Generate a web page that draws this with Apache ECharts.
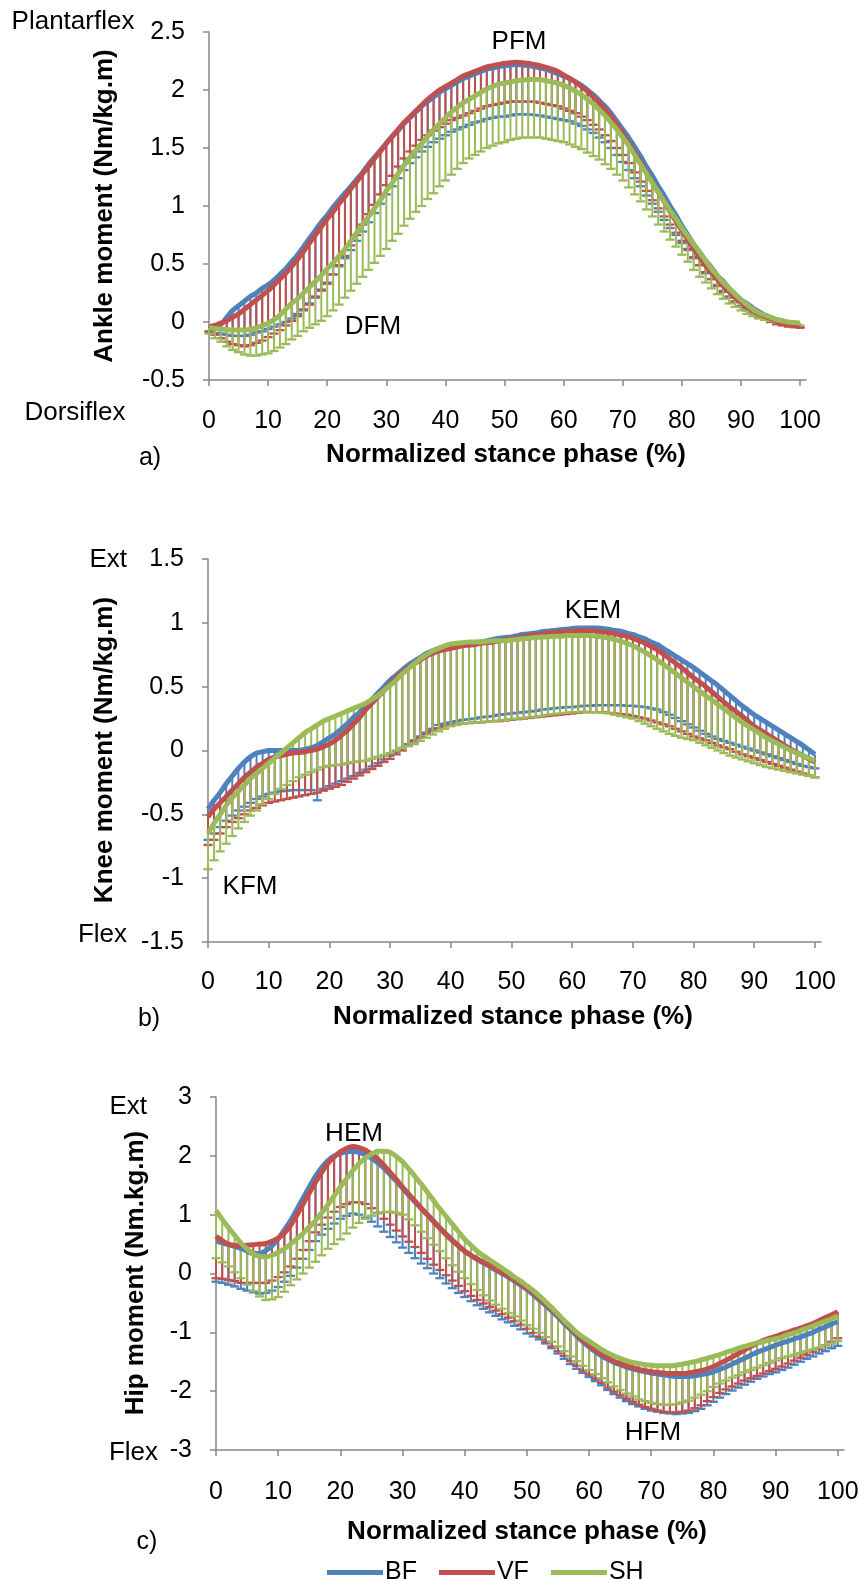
<!DOCTYPE html>
<html>
<head>
<meta charset="utf-8">
<script src="https://cdn.jsdelivr.net/npm/echarts@6/dist/echarts.min.js"></script>
<style>html,body{margin:0;padding:0;background:#fff}#c{width:866px;height:1579px}</style>
</head>
<body>
<div id="c"></div>
<script>
// ---------- DATA ----------
const phase = [0,1,2,3,4,5,6,7,8,9,10,11,12,13,14,15,16,17,18,19,20,21,22,23,24,25,26,27,28,29,30,31,32,33,34,35,36,37,38,39,40,41,42,43,44,45,46,47,48,49,50,51,52,53,54,55,56,57,58,59,60,61,62,63,64,65,66,67,68,69,70,71,72,73,74,75,76,77,78,79,80,81,82,83,84,85,86,87,88,89,90,91,92,93,94,95,96,97,98,99,100];
const xTicks = [0,10,20,30,40,50,60,70,80,90,100];
const groups = ['BF','VF','SH'];

// Ankle moment (Nm/kg.m): means and lower error-bar ends (mean - SD)
const ankleBF = [-0.06,-0.04,-0.02,0.04,0.10,0.14,0.18,0.22,0.25,0.29,
 0.32,0.36,0.41,0.46,0.52,0.58,0.65,0.72,0.79,0.86,
 0.92,0.99,1.05,1.11,1.17,1.23,1.29,1.36,1.42,1.48,
 1.54,1.60,1.65,1.71,1.76,1.81,1.86,1.90,1.94,1.98,
 2.01,2.04,2.07,2.10,2.12,2.14,2.16,2.18,2.19,2.20,
 2.21,2.215,2.22,2.215,2.21,2.20,2.19,2.18,2.16,2.14,
 2.12,2.10,2.07,2.04,2.00,1.96,1.91,1.86,1.80,1.73,
 1.66,1.59,1.51,1.43,1.34,1.26,1.17,1.09,1.00,0.92,
 0.83,0.75,0.67,0.60,0.53,0.47,0.40,0.35,0.29,0.24,
 0.19,0.16,0.12,0.09,0.06,0.04,0.02,0.01,-0.01,-0.02,
 -0.02];
const ankleVF = [-0.04,-0.03,-0.01,0.01,0.04,0.07,0.11,0.15,0.19,0.23,
 0.27,0.32,0.37,0.42,0.48,0.54,0.61,0.68,0.75,0.82,
 0.89,0.95,1.02,1.08,1.15,1.21,1.28,1.34,1.41,1.47,
 1.54,1.60,1.66,1.72,1.77,1.82,1.87,1.92,1.96,2.00,
 2.03,2.06,2.09,2.12,2.14,2.16,2.18,2.20,2.21,2.22,
 2.23,2.235,2.24,2.235,2.23,2.22,2.21,2.195,2.18,2.16,
 2.13,2.10,2.07,2.03,1.99,1.94,1.89,1.83,1.77,1.70,
 1.62,1.54,1.46,1.38,1.29,1.21,1.12,1.04,0.95,0.87,
 0.79,0.71,0.63,0.56,0.49,0.43,0.37,0.31,0.26,0.21,
 0.17,0.13,0.10,0.07,0.05,0.03,0.01,-0.01,-0.02,-0.025,
 -0.03];
const ankleSH = [-0.05,-0.055,-0.06,-0.065,-0.07,-0.07,-0.07,-0.06,-0.05,-0.03,
 -0.01,0.02,0.06,0.11,0.16,0.20,0.25,0.30,0.35,0.40,
 0.46,0.51,0.57,0.63,0.70,0.77,0.84,0.91,0.98,1.05,
 1.13,1.20,1.28,1.35,1.42,1.48,1.54,1.60,1.66,1.71,
 1.76,1.81,1.85,1.89,1.92,1.95,1.98,2.01,2.03,2.05,
 2.06,2.07,2.08,2.085,2.09,2.09,2.09,2.08,2.07,2.06,
 2.04,2.02,1.99,1.96,1.92,1.88,1.83,1.78,1.72,1.66,
 1.59,1.52,1.44,1.36,1.28,1.20,1.12,1.04,0.96,0.89,
 0.81,0.74,0.67,0.60,0.53,0.46,0.40,0.34,0.29,0.24,
 0.19,0.15,0.11,0.08,0.06,0.04,0.02,0.01,0.00,-0.005,
 -0.01];
const ankleBFlo = [-0.09,-0.095,-0.10,-0.11,-0.12,-0.12,-0.12,-0.11,-0.09,-0.08,
 -0.06,-0.04,-0.02,0.00,0.03,0.07,0.11,0.16,0.22,0.28,
 0.34,0.41,0.48,0.55,0.62,0.70,0.78,0.86,0.94,1.02,
 1.10,1.17,1.24,1.31,1.37,1.42,1.47,1.51,1.55,1.58,
 1.61,1.64,1.66,1.68,1.70,1.72,1.73,1.75,1.76,1.77,
 1.77,1.78,1.79,1.79,1.79,1.785,1.78,1.77,1.76,1.75,
 1.74,1.73,1.71,1.69,1.66,1.63,1.59,1.55,1.50,1.44,
 1.38,1.31,1.24,1.17,1.09,1.02,0.95,0.88,0.81,0.75,
 0.68,0.62,0.55,0.49,0.42,0.37,0.32,0.27,0.22,0.18,
 0.14,0.11,0.08,0.05,0.03,0.01,0.00,-0.01,-0.02,-0.03,
 -0.04];
const ankleVFlo = [-0.08,-0.11,-0.14,-0.17,-0.19,-0.20,-0.21,-0.20,-0.18,-0.16,
 -0.13,-0.10,-0.07,-0.03,0.01,0.05,0.10,0.15,0.21,0.27,
 0.33,0.41,0.49,0.57,0.66,0.75,0.84,0.93,1.01,1.10,
 1.18,1.26,1.34,1.41,1.47,1.52,1.57,1.61,1.65,1.68,
 1.71,1.74,1.76,1.78,1.80,1.82,1.84,1.86,1.87,1.88,
 1.89,1.90,1.90,1.90,1.90,1.90,1.89,1.88,1.87,1.86,
 1.84,1.82,1.80,1.77,1.74,1.70,1.66,1.61,1.56,1.50,
 1.44,1.37,1.29,1.21,1.13,1.05,0.98,0.91,0.84,0.77,
 0.70,0.63,0.56,0.49,0.43,0.37,0.31,0.26,0.21,0.17,
 0.13,0.10,0.07,0.04,0.02,0.00,-0.02,-0.03,-0.04,-0.045,
 -0.05];
const ankleSHlo = [-0.10,-0.14,-0.17,-0.21,-0.24,-0.26,-0.28,-0.29,-0.29,-0.28,
 -0.27,-0.25,-0.22,-0.19,-0.15,-0.12,-0.08,-0.05,-0.02,0.01,
 0.05,0.10,0.15,0.21,0.27,0.33,0.39,0.45,0.51,0.57,
 0.63,0.70,0.76,0.83,0.89,0.95,1.00,1.06,1.11,1.17,
 1.22,1.27,1.32,1.37,1.41,1.44,1.47,1.50,1.52,1.54,
 1.55,1.57,1.58,1.59,1.59,1.59,1.59,1.58,1.57,1.56,
 1.55,1.53,1.51,1.49,1.46,1.43,1.40,1.36,1.32,1.27,
 1.22,1.16,1.10,1.04,0.97,0.91,0.84,0.78,0.71,0.65,
 0.58,0.52,0.45,0.39,0.34,0.29,0.24,0.20,0.16,0.13,
 0.10,0.07,0.05,0.03,0.02,0.01,0.00,-0.01,-0.02,-0.025,
 -0.03];

// Knee moment (Nm/kg.m)
const kneeBF = [-0.46,-0.39,-0.33,-0.26,-0.20,-0.14,-0.09,-0.05,-0.02,-0.01,
 0.00,0.00,0.00,0.00,0.00,0.00,0.01,0.02,0.04,0.07,
 0.10,0.13,0.17,0.21,0.26,0.30,0.35,0.40,0.45,0.50,
 0.55,0.59,0.63,0.67,0.70,0.73,0.76,0.78,0.80,0.81,
 0.82,0.825,0.83,0.84,0.845,0.85,0.86,0.87,0.88,0.885,
 0.89,0.90,0.91,0.915,0.92,0.93,0.935,0.94,0.945,0.95,
 0.955,0.96,0.96,0.96,0.96,0.955,0.95,0.94,0.935,0.92,
 0.91,0.89,0.875,0.85,0.83,0.80,0.77,0.74,0.71,0.68,
 0.65,0.615,0.58,0.545,0.51,0.47,0.43,0.39,0.35,0.315,
 0.28,0.25,0.22,0.19,0.16,0.13,0.10,0.07,0.04,0.005,
 -0.03];
const kneeVF = [-0.52,-0.46,-0.41,-0.36,-0.31,-0.26,-0.21,-0.17,-0.13,-0.10,
 -0.07,-0.05,-0.04,-0.03,-0.02,-0.015,-0.01,0.00,0.01,0.03,
 0.05,0.08,0.12,0.16,0.21,0.26,0.32,0.37,0.42,0.47,
 0.52,0.57,0.61,0.65,0.68,0.71,0.74,0.76,0.78,0.79,
 0.80,0.81,0.82,0.825,0.83,0.84,0.845,0.85,0.86,0.87,
 0.875,0.88,0.89,0.90,0.905,0.91,0.92,0.925,0.93,0.93,
 0.935,0.94,0.94,0.94,0.935,0.93,0.925,0.915,0.905,0.895,
 0.88,0.86,0.84,0.815,0.79,0.755,0.72,0.685,0.65,0.61,
 0.57,0.535,0.50,0.46,0.42,0.38,0.34,0.305,0.27,0.23,
 0.19,0.16,0.13,0.10,0.07,0.04,0.01,-0.015,-0.04,-0.065,
 -0.09];
const kneeSH = [-0.65,-0.57,-0.50,-0.43,-0.37,-0.32,-0.27,-0.22,-0.18,-0.14,
 -0.10,-0.06,-0.02,0.02,0.06,0.10,0.14,0.17,0.20,0.23,
 0.25,0.27,0.29,0.31,0.33,0.35,0.37,0.40,0.43,0.47,
 0.51,0.55,0.60,0.64,0.68,0.72,0.75,0.78,0.80,0.82,
 0.835,0.84,0.845,0.85,0.85,0.85,0.855,0.86,0.86,0.86,
 0.865,0.87,0.875,0.88,0.885,0.89,0.89,0.895,0.895,0.90,
 0.90,0.90,0.90,0.90,0.895,0.89,0.88,0.87,0.855,0.84,
 0.82,0.795,0.77,0.74,0.71,0.675,0.64,0.605,0.57,0.535,
 0.50,0.465,0.43,0.395,0.36,0.325,0.29,0.255,0.22,0.19,
 0.16,0.13,0.10,0.075,0.05,0.025,0.00,-0.02,-0.04,-0.06,
 -0.08];
const kneeBFlo = [-0.70,-0.65,-0.60,-0.55,-0.51,-0.47,-0.44,-0.41,-0.38,-0.36,
 -0.34,-0.33,-0.32,-0.315,-0.31,-0.31,-0.31,-0.31,-0.39,-0.30,
 -0.28,-0.26,-0.24,-0.22,-0.20,-0.175,-0.15,-0.125,-0.10,-0.07,
 -0.04,-0.01,0.02,0.05,0.08,0.11,0.14,0.17,0.20,0.21,
 0.22,0.23,0.24,0.245,0.25,0.26,0.265,0.27,0.28,0.285,
 0.29,0.295,0.30,0.305,0.31,0.32,0.325,0.33,0.335,0.34,
 0.34,0.345,0.35,0.35,0.355,0.355,0.355,0.355,0.355,0.35,
 0.35,0.345,0.34,0.33,0.32,0.30,0.28,0.255,0.23,0.205,
 0.18,0.155,0.13,0.11,0.09,0.075,0.06,0.045,0.03,0.015,
 0.00,-0.015,-0.03,-0.045,-0.06,-0.075,-0.09,-0.105,-0.12,-0.13,
 -0.14];
const kneeVFlo = [-0.74,-0.70,-0.65,-0.60,-0.56,-0.53,-0.50,-0.47,-0.45,-0.43,
 -0.41,-0.40,-0.39,-0.38,-0.37,-0.36,-0.35,-0.34,-0.33,-0.315,
 -0.30,-0.285,-0.27,-0.245,-0.22,-0.195,-0.17,-0.145,-0.12,-0.09,
 -0.065,-0.03,0.00,0.035,0.07,0.10,0.13,0.155,0.175,0.19,
 0.20,0.205,0.21,0.215,0.22,0.22,0.225,0.23,0.23,0.235,
 0.24,0.245,0.25,0.255,0.26,0.265,0.27,0.275,0.28,0.285,
 0.29,0.295,0.30,0.30,0.30,0.30,0.295,0.29,0.285,0.28,
 0.27,0.26,0.25,0.235,0.22,0.205,0.19,0.17,0.15,0.13,
 0.11,0.095,0.08,0.06,0.04,0.025,0.01,-0.01,-0.03,-0.045,
 -0.06,-0.075,-0.09,-0.105,-0.12,-0.135,-0.15,-0.165,-0.18,-0.195,
 -0.21];
const kneeSHlo = [-0.93,-0.86,-0.79,-0.73,-0.67,-0.61,-0.56,-0.51,-0.47,-0.42,
 -0.38,-0.34,-0.30,-0.27,-0.24,-0.21,-0.19,-0.17,-0.15,-0.13,
 -0.12,-0.115,-0.11,-0.10,-0.09,-0.085,-0.08,-0.065,-0.05,-0.035,
 -0.02,0.00,0.02,0.035,0.05,0.075,0.10,0.125,0.15,0.17,
 0.19,0.20,0.21,0.215,0.22,0.22,0.225,0.23,0.235,0.24,
 0.245,0.25,0.255,0.26,0.265,0.27,0.28,0.285,0.29,0.295,
 0.30,0.30,0.305,0.30,0.30,0.295,0.29,0.28,0.27,0.26,
 0.25,0.23,0.21,0.19,0.17,0.15,0.13,0.115,0.10,0.09,
 0.08,0.06,0.04,0.02,0.00,-0.02,-0.04,-0.055,-0.07,-0.085,
 -0.10,-0.115,-0.13,-0.14,-0.15,-0.16,-0.17,-0.18,-0.19,-0.20,
 -0.21];

// Hip moment (Nm.kg.m)
const hipBF = [0.55,0.52,0.49,0.46,0.43,0.38,0.34,0.34,0.39,0.47,
 0.59,0.74,0.90,1.09,1.28,1.47,1.65,1.80,1.92,2.00,
 2.04,2.07,2.08,2.06,2.02,1.96,1.88,1.79,1.68,1.57,
 1.45,1.33,1.22,1.11,1.00,0.89,0.78,0.67,0.57,0.47,
 0.38,0.31,0.24,0.18,0.12,0.06,0.00,-0.06,-0.13,-0.20,
 -0.27,-0.36,-0.45,-0.54,-0.64,-0.74,-0.85,-0.95,-1.06,-1.16,
 -1.25,-1.33,-1.40,-1.46,-1.51,-1.55,-1.59,-1.62,-1.65,-1.67,
 -1.69,-1.71,-1.72,-1.74,-1.75,-1.75,-1.75,-1.74,-1.72,-1.70,
 -1.67,-1.63,-1.59,-1.54,-1.49,-1.44,-1.39,-1.34,-1.30,-1.26,
 -1.22,-1.18,-1.15,-1.11,-1.08,-1.04,-1.00,-0.95,-0.91,-0.86,
 -0.82];
const hipVF = [0.63,0.56,0.50,0.48,0.47,0.48,0.49,0.50,0.51,0.55,
 0.60,0.69,0.82,0.99,1.18,1.37,1.55,1.72,1.87,1.98,
 2.07,2.13,2.16,2.14,2.10,2.03,1.95,1.84,1.72,1.60,
 1.47,1.35,1.23,1.11,1.00,0.88,0.77,0.66,0.56,0.47,
 0.38,0.31,0.25,0.19,0.14,0.08,0.02,-0.04,-0.11,-0.18,
 -0.25,-0.33,-0.42,-0.51,-0.61,-0.71,-0.82,-0.92,-1.03,-1.13,
 -1.22,-1.30,-1.37,-1.43,-1.49,-1.53,-1.57,-1.60,-1.63,-1.65,
 -1.67,-1.68,-1.69,-1.70,-1.70,-1.70,-1.69,-1.67,-1.65,-1.62,
 -1.58,-1.53,-1.48,-1.42,-1.36,-1.30,-1.24,-1.19,-1.14,-1.10,
 -1.07,-1.03,-1.00,-0.96,-0.93,-0.89,-0.85,-0.80,-0.75,-0.70,
 -0.65];
const hipSH = [1.07,0.92,0.78,0.65,0.52,0.42,0.33,0.29,0.28,0.31,
 0.36,0.42,0.50,0.59,0.68,0.79,0.90,1.03,1.17,1.32,
 1.47,1.61,1.75,1.87,1.96,2.03,2.08,2.08,2.06,1.99,
 1.90,1.78,1.65,1.52,1.38,1.24,1.10,0.97,0.84,0.71,
 0.58,0.48,0.38,0.30,0.23,0.16,0.09,0.02,-0.06,-0.13,
 -0.21,-0.29,-0.38,-0.48,-0.58,-0.69,-0.80,-0.90,-1.00,-1.08,
 -1.15,-1.22,-1.29,-1.35,-1.40,-1.44,-1.48,-1.51,-1.53,-1.55,
 -1.56,-1.57,-1.57,-1.57,-1.56,-1.54,-1.52,-1.50,-1.47,-1.44,
 -1.41,-1.38,-1.34,-1.31,-1.27,-1.24,-1.21,-1.18,-1.16,-1.13,
 -1.11,-1.08,-1.04,-1.01,-0.97,-0.93,-0.89,-0.85,-0.81,-0.77,
 -0.72];
const hipBFlo = [-0.14,-0.16,-0.19,-0.22,-0.26,-0.29,-0.32,-0.34,-0.33,-0.29,
 -0.23,-0.14,-0.04,0.10,0.25,0.40,0.55,0.66,0.76,0.85,
 0.93,0.98,1.02,1.00,0.95,0.88,0.80,0.71,0.62,0.53,
 0.44,0.35,0.26,0.17,0.09,0.00,-0.08,-0.17,-0.25,-0.33,
 -0.40,-0.47,-0.54,-0.60,-0.66,-0.72,-0.78,-0.83,-0.89,-0.95,
 -1.02,-1.07,-1.12,-1.19,-1.27,-1.36,-1.45,-1.54,-1.62,-1.69,
 -1.76,-1.83,-1.90,-1.98,-2.05,-2.11,-2.17,-2.22,-2.26,-2.30,
 -2.33,-2.35,-2.37,-2.38,-2.39,-2.38,-2.37,-2.34,-2.30,-2.24,
 -2.18,-2.11,-2.05,-1.99,-1.94,-1.89,-1.84,-1.79,-1.75,-1.71,
 -1.68,-1.64,-1.60,-1.55,-1.50,-1.45,-1.41,-1.36,-1.32,-1.27,
 -1.23];
const hipVFlo = [-0.08,-0.09,-0.11,-0.13,-0.16,-0.16,-0.16,-0.16,-0.16,-0.12,
 -0.06,0.02,0.12,0.25,0.40,0.55,0.70,0.83,0.95,1.05,
 1.13,1.18,1.21,1.21,1.18,1.11,1.03,0.93,0.83,0.73,
 0.63,0.54,0.45,0.35,0.25,0.15,0.06,-0.03,-0.12,-0.21,
 -0.30,-0.38,-0.45,-0.51,-0.57,-0.63,-0.69,-0.75,-0.81,-0.87,
 -0.94,-1.01,-1.08,-1.16,-1.24,-1.32,-1.40,-1.49,-1.57,-1.65,
 -1.72,-1.79,-1.86,-1.94,-2.01,-2.07,-2.13,-2.18,-2.23,-2.27,
 -2.30,-2.33,-2.35,-2.36,-2.36,-2.35,-2.33,-2.29,-2.24,-2.17,
 -2.10,-2.03,-1.97,-1.92,-1.87,-1.82,-1.78,-1.74,-1.70,-1.66,
 -1.62,-1.58,-1.53,-1.48,-1.43,-1.38,-1.33,-1.28,-1.22,-1.16,
 -1.10];
const hipSHlo = [0.26,0.19,0.12,0.02,-0.08,-0.19,-0.30,-0.39,-0.45,-0.44,
 -0.40,-0.31,-0.20,-0.10,0.00,0.10,0.20,0.31,0.42,0.50,
 0.58,0.68,0.78,0.86,0.93,0.98,1.02,1.04,1.05,1.03,
 1.00,0.92,0.82,0.71,0.60,0.49,0.38,0.26,0.14,0.03,
 -0.08,-0.18,-0.28,-0.37,-0.46,-0.53,-0.60,-0.67,-0.73,-0.80,
 -0.88,-0.94,-1.01,-1.08,-1.16,-1.24,-1.32,-1.41,-1.49,-1.57,
 -1.64,-1.71,-1.78,-1.85,-1.92,-1.98,-2.04,-2.09,-2.14,-2.17,
 -2.20,-2.22,-2.23,-2.23,-2.22,-2.19,-2.16,-2.11,-2.06,-2.00,
 -1.93,-1.87,-1.82,-1.77,-1.73,-1.68,-1.64,-1.60,-1.56,-1.52,
 -1.48,-1.44,-1.41,-1.38,-1.35,-1.32,-1.29,-1.26,-1.22,-1.19,
 -1.15];

// ---------- CHART ----------
const colors = {BF:'#4F81BD', VF:'#C0504D', SH:'#9BBB59'};
const FONT = 'Liberation Sans, Arial, sans-serif';
const AX = '#868686';

const panels = [
  {grid:{left:209, top:32, width:597, height:348}, y:{min:-0.5,max:2.5,interval:0.5}, lblMargin:29,
   means:[ankleBF,ankleVF,ankleSH], lows:[ankleBFlo,ankleVFlo,ankleSHlo]},
  {grid:{left:208, top:559, width:613, height:383}, y:{min:-1.5,max:1.5,interval:0.5}, lblMargin:28,
   means:[kneeBF,kneeVF,kneeSH], lows:[kneeBFlo,kneeVFlo,kneeSHlo]},
  {grid:{left:216, top:1097, width:628, height:353}, y:{min:-3,max:3,interval:1}, lblMargin:30,
   means:[hipBF,hipVF,hipSH], lows:[hipBFlo,hipVFlo,hipSHlo]}
];

const grid=[], xAxis=[], yAxis=[], series=[];
panels.forEach((p,i)=>{
  grid.push(p.grid);
  xAxis.push({type:'value', gridIndex:i, min:0, max:101, interval:10,
    axisLine:{show:true, onZero:false, lineStyle:{color:AX, width:1.5}},
    axisTick:{show:true, length:6, lineStyle:{color:AX, width:1.5}, customValues:xTicks},
    axisLabel:{color:'#000', fontSize:25, fontFamily:FONT, margin:p.lblMargin, customValues:xTicks},
    splitLine:{show:false}});
  yAxis.push({type:'value', gridIndex:i, min:p.y.min, max:p.y.max, interval:p.y.interval,
    axisLine:{show:true, onZero:false, lineStyle:{color:AX, width:1.5}},
    axisTick:{show:true, length:6, lineStyle:{color:AX, width:1.5}},
    axisLabel:{color:'#000', fontSize:25, fontFamily:FONT, margin:24},
    splitLine:{show:false}});
  groups.forEach((g,k)=>{
    const col = colors[g];
    const data = phase.map((x,j)=>[x, p.means[k][j], p.lows[k][j]]);
    series.push({type:'custom', name:g, xAxisIndex:i, yAxisIndex:i, z:2, silent:true,
      encode:{x:0, y:[1,2]}, data:data,
      renderItem:function(params, api){
        const a = api.coord([api.value(0), api.value(1)]);
        const b = api.coord([api.value(0), api.value(2)]);
        return {type:'group', children:[
          {type:'line', shape:{x1:a[0],y1:a[1],x2:b[0],y2:b[1]}, style:{stroke:col, lineWidth:2}},
          {type:'line', shape:{x1:b[0]-4.5,y1:b[1],x2:b[0]+4.5,y2:b[1]}, style:{stroke:col, lineWidth:2.3}}
        ]};
      }});
  });
  groups.forEach((g,k)=>{
    series.push({type:'line', name:g, xAxisIndex:i, yAxisIndex:i, z:3, symbol:'none', smooth:0.3,
      lineStyle:{color:colors[g], width:5}, itemStyle:{color:colors[g]},
      data: phase.map((x,j)=>[x, p.means[k][j]])});
  });
});

function txt(t, x, y, opts){
  opts = opts || {};
  return {type:'text', x:x, y:y, rotation:opts.rot||0, silent:true,
    style:{text:t, fill:'#000', align:opts.align||'center', verticalAlign:'middle',
      font:(opts.bold?'bold ':'')+(opts.size||26)+'px '+FONT}};
}

const graphics = [
  txt('Plantarflex', 73, 22),
  txt('Dorsiflex', 75, 413),
  txt('PFM', 519, 42),
  txt('DFM', 373, 327),
  txt('a)', 150, 458, {size:25}),
  txt('Normalized stance phase (%)', 506, 455, {bold:true}),
  txt('Ankle moment (Nm/kg.m)', 105, 206, {bold:true, rot:Math.PI/2}),
  txt('Ext', 127, 560, {align:'right'}),
  txt('Flex', 127, 935, {align:'right'}),
  txt('KEM', 593, 611),
  txt('KFM', 250, 887),
  txt('b)', 149, 1019, {size:25}),
  txt('Normalized stance phase (%)', 513, 1017, {bold:true}),
  txt('Knee moment (Nm/kg.m)', 105, 750, {bold:true, rot:Math.PI/2}),
  txt('Ext', 147, 1107, {align:'right'}),
  txt('Flex', 158, 1453, {align:'right'}),
  txt('HEM', 354, 1134),
  txt('HFM', 653, 1433),
  txt('c)', 147, 1542, {size:25}),
  txt('Normalized stance phase (%)', 527, 1532, {bold:true}),
  txt('Hip moment (Nm.kg.m)', 136, 1273, {bold:true, rot:Math.PI/2})
];

const chart = echarts.init(document.getElementById('c'), null, {renderer:'canvas'});
chart.setOption({
  animation:false,
  backgroundColor:'#fff',
  grid:grid, xAxis:xAxis, yAxis:yAxis, series:series,
  legend:{left:322, top:1555, itemWidth:56, itemHeight:5, itemGap:22, icon:'rect',
    textStyle:{color:'#000', fontSize:25, fontFamily:FONT, padding:[0,0,0,-3]},
    data: groups.map(g=>({name:g, itemStyle:{color:colors[g]}}))},
  graphic: graphics
});
</script>
</body>
</html>
